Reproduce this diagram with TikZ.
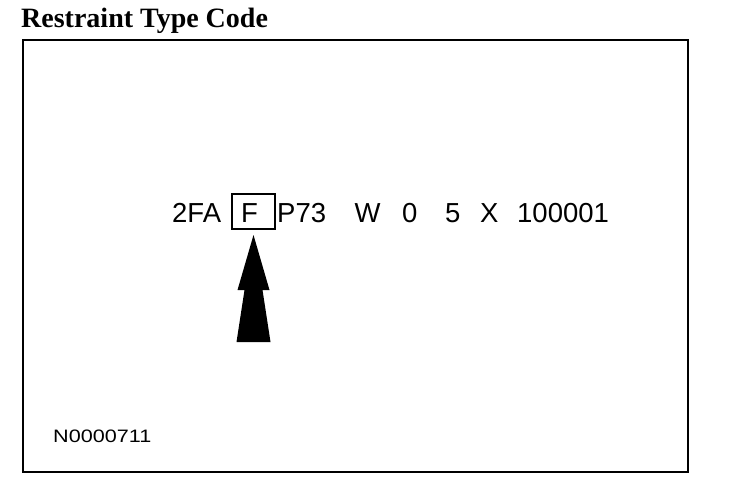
\documentclass[tikz,border=0pt]{standalone}
\usepackage{fontspec}
\setmainfont{Liberation Sans}
\newfontfamily\titlefont{Liberation Serif}
\newfontfamily\refnofont[FakeStretch=1.2]{Liberation Sans}
\usepackage{tikz}
\tikzset{>=latex}
\tikzset{codetext/.style={anchor=base west, inner sep=0pt, font=\fontsize{27.5}{27.5}\selectfont}}
\tikzset{codebox/.style={draw, line width=2pt, minimum width=43pt, minimum height=35pt, inner sep=0pt}}

\begin{document}
\begin{tikzpicture}[x=1pt, y=-1pt]
                \useasboundingbox (0, 0) rectangle (736, 482);
                \node[anchor=base west, inner sep=0pt, font=\titlefont\bfseries\fontsize{28}{28}\selectfont] (title) at (21, 27) {Restraint Type Code};
                \draw[line width=2.5pt] (23, 40) rectangle (688, 472);
                \node[codetext] (code2fa) at (172, 222) {2FA};
                \node[codebox] (fbox) at (253.5, 211.5) {};
                \node[codetext] (codef) at (241, 222) {F};
                \node[codetext] (codep73) at (277, 222) {P73};
                \node[codetext] (codew) at (354.5, 222) {W};
                \node[codetext] (code0) at (402, 222) {0};
                \node[codetext] (code5) at (445, 222) {5};
                \node[codetext] (codex) at (480, 222) {X};
                \node[codetext] (codeserial) at (517, 222) {100001};
                \coordinate (tip) at ([yshift=-5pt]fbox.south);
                \fill (tip) -- ++(16, 55) -- ++(-7, 0) -- ++(8, 52) -- ++(-34, 0) -- ++(8, -52) -- ++(-7, 0) -- cycle;
                \node[anchor=base west, inner sep=0pt, font=\refnofont\fontsize{18}{18}\selectfont] (refno) at (53, 442) {N0000711};
            \end{tikzpicture}
\end{document}
